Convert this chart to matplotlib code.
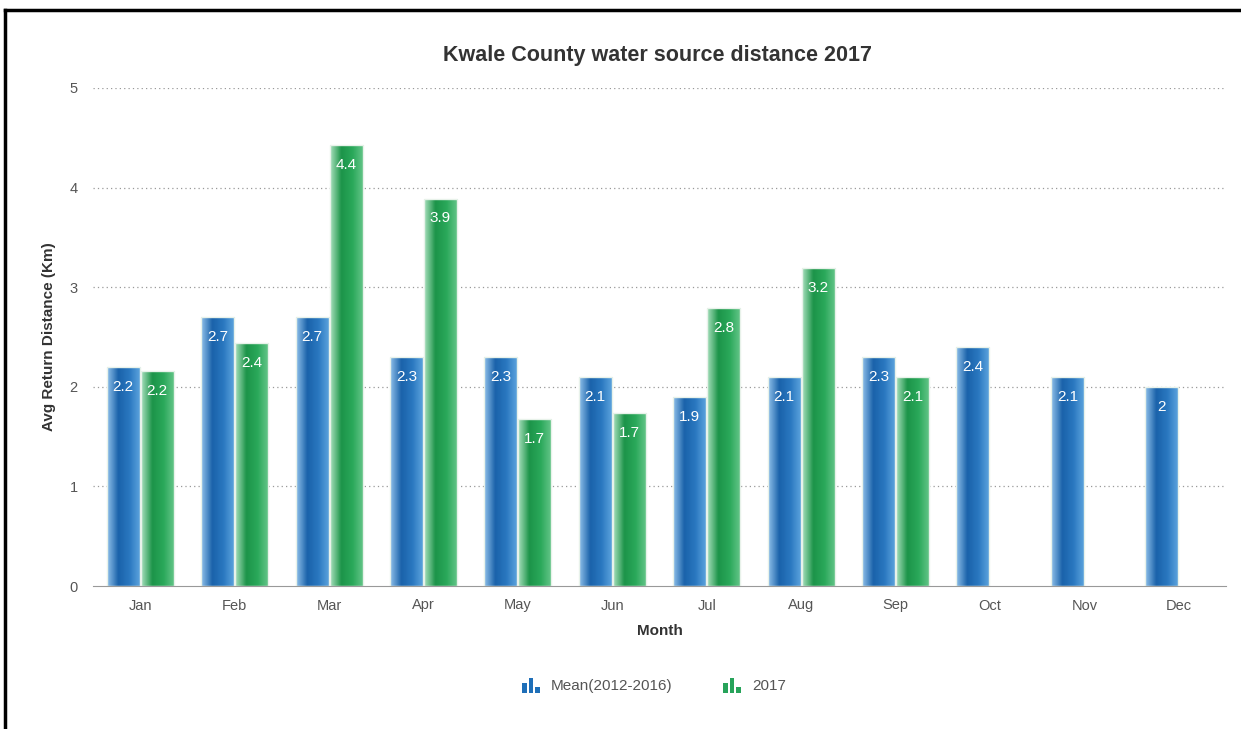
import numpy as np
import matplotlib
matplotlib.use("Agg")
import matplotlib.pyplot as plt
from matplotlib.patches import Rectangle
from matplotlib.lines import Line2D
from matplotlib.legend_handler import HandlerBase
from matplotlib.colors import LinearSegmentedColormap

plt.rcParams["font.family"] = ["Liberation Sans", "DejaVu Sans"]

months = ["Jan", "Feb", "Mar", "Apr", "May", "Jun", "Jul", "Aug", "Sep", "Oct", "Nov", "Dec"]
mean_2012_2016 = [2.2, 2.7, 2.7, 2.3, 2.3, 2.1, 1.9, 2.1, 2.3, 2.4, 2.1, 2.0]
year_2017 = [2.16, 2.44, 4.43, 3.89, 1.68, 1.74, 2.79, 3.19, 2.1, None, None, None]

series_names = ["Mean(2012-2016)", "2017"]
blue_stops = ["#8fc0ea", "#1a62aa", "#2a78c0", "#5fa6df"]
green_stops = ["#a8e0bd", "#1c9449", "#2aa85a", "#66c68a"]


def gradient_bar(ax, x, h, w, stops):
    cmap = LinearSegmentedColormap.from_list("g", stops)
    grad = np.linspace(0, 1, 64).reshape(1, -1)
    im = ax.imshow(grad, cmap=cmap, aspect="auto", extent=(x - w / 2, x + w / 2, 0, h),
                   zorder=3, interpolation="bicubic")
    rect = Rectangle((x - w / 2, 0), w, h, facecolor="none", edgecolor="#e8f2ea",
                     linewidth=1.0, zorder=4)
    ax.add_patch(rect)
    im.set_clip_path(rect)


class BarIcon(HandlerBase):
    def __init__(self, color):
        super().__init__()
        self.color = color

    def create_artists(self, legend, orig_handle, xdescent, ydescent, width, height, fontsize, trans):
        arts = []
        bw = width / 4.2
        for i, f in enumerate([0.75, 1.1, 0.45]):
            r = Rectangle((-xdescent + i * bw * 1.4, -ydescent - 2), bw, (height + 2) * f,
                          facecolor=self.color, edgecolor="none", transform=trans)
            arts.append(r)
        return arts


fig = plt.figure(figsize=(12.41, 7.29), dpi=100)
ax = fig.add_axes([93 / 1241, 1 - 586 / 729, (1226 - 93) / 1241, (586 - 88) / 729])

x = np.arange(len(months))
w = 0.35
off = 0.18
for i, v in enumerate(mean_2012_2016):
    gradient_bar(ax, x[i] - off, v, w, blue_stops)
    ax.text(x[i] - off, v - 0.2, "{:g}".format(round(v, 1)), ha="center", va="center",
            color="white", fontsize=11, zorder=5)
for i, v in enumerate(year_2017):
    if v is None:
        continue
    gradient_bar(ax, x[i] + off, v, w, green_stops)
    ax.text(x[i] + off, v - 0.2, "{:g}".format(round(v, 1)), ha="center", va="center",
            color="white", fontsize=11, zorder=5)

ax.set_xlim(-0.5, len(months) - 0.5)
ax.set_ylim(0, 5)
ax.set_xticks(x)
ax.set_xticklabels(months, fontsize=10.5, color="#555555")
ax.set_yticks([0, 1, 2, 3, 4, 5])
ax.tick_params(axis="x", length=0, pad=9)
ax.tick_params(axis="y", length=0, pad=11, labelsize=10.5, labelcolor="#555555")
for y in [1, 2, 3, 4, 5]:
    ax.axhline(y, color="#999999", linestyle=(0, (1, 2.5)), linewidth=0.9, zorder=1)
for s in ["top", "right", "left"]:
    ax.spines[s].set_visible(False)
ax.spines["bottom"].set_color("#999999")
ax.spines["bottom"].set_zorder(6)

ax.set_xlabel("Month", fontsize=11, fontweight="bold", color="#333333", labelpad=8)
ax.set_ylabel("Avg Return Distance (Km)", fontsize=11, fontweight="bold", color="#333333", labelpad=10)
fig.text(0.530, 1 - 55 / 729, "Kwale County water source distance 2017", ha="center", va="center",
         fontsize=15.5, fontweight="bold", color="#333333")

h1 = Rectangle((0, 0), 1, 1)
h2 = Rectangle((0, 0), 1, 1, facecolor="g")
fig.legend([h1, h2], series_names, loc="center", bbox_to_anchor=(0.527, 1 - 686 / 729),
           ncol=2, frameon=False, fontsize=11, handlelength=1.3, handletextpad=0.6,
           columnspacing=3.3, labelcolor="#555555",
           handler_map={h1: BarIcon("#1f6fb8"), h2: BarIcon("#27a35a")})

# outer frame (top and left edges only visible)
fig.add_artist(Line2D([5 / 1241, 1], [1 - 10 / 729, 1 - 10 / 729], color="black", linewidth=2.5,
                      transform=fig.transFigure))
fig.add_artist(Line2D([5 / 1241, 5 / 1241], [0, 1 - 10 / 729], color="black", linewidth=2.5,
                      transform=fig.transFigure))

fig.savefig("out.png", dpi=100)
